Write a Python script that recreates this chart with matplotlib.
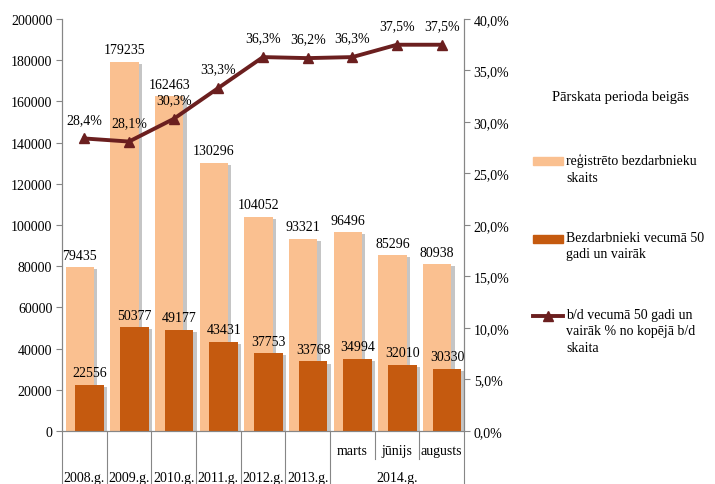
import matplotlib
matplotlib.use('Agg')
import matplotlib.pyplot as plt
import matplotlib.patheffects as pe
from matplotlib.patches import Rectangle
from matplotlib.lines import Line2D
from matplotlib.transforms import blended_transform_factory
from matplotlib.ticker import FuncFormatter

plt.rcParams['font.family'] = ['Liberation Serif', 'DejaVu Serif']
plt.rcParams['font.size'] = 10

# data
periods = ['2008.g.', '2009.g.', '2010.g.', '2011.g.', '2012.g.', '2013.g.', 'marts', 'jūnijs', 'augusts']
registered = [79435, 179235, 162463, 130296, 104052, 93321, 96496, 85296, 80938]
over50 = [22556, 50377, 49177, 43431, 37753, 33768, 34994, 32010, 30330]
share = [28.4, 28.1, 30.3, 33.3, 36.3, 36.2, 36.3, 37.5, 37.5]
month_labels = ['marts', 'jūnijs', 'augusts']
year_labels = ['2008.g.', '2009.g.', '2010.g.', '2011.g.', '2012.g.', '2013.g.', '2014.g.']
legend_labels = ['reģistrēto bezdarbnieku\nskaits',
                 'Bezdarbnieki vecumā 50\ngadi un vairāk',
                 'b/d vecumā 50 gadi un\nvairāk % no kopējā b/d\nskaita']

c_light = '#FAC090'
c_dark = '#C55A0F'
c_line = '#6B1F1F'

fig = plt.figure(figsize=(7.15, 4.85), dpi=100)
ax = fig.add_axes([0.0867, 0.1093, 0.5622, 0.8495])
ax2 = ax.twinx()

x = list(range(len(periods)))
shadow = [pe.SimplePatchShadow(offset=(2.5, -1.5), shadow_rgbFace='#808080', alpha=0.45), pe.Normal()]

b1 = ax.bar([i - 0.1 for i in x], registered, 0.63, color=c_light, zorder=2)
b2 = ax.bar([i + 0.12 for i in x], over50, 0.64, color=c_dark, zorder=3)
for p in list(b1) + list(b2):
    p.set_path_effects(shadow)

for i, v in enumerate(registered):
    ax.annotate(str(v), (i - 0.1, v), xytext=(0, 4), textcoords='offset points',
                ha='center', va='bottom', fontsize=10, zorder=5)
for i, v in enumerate(over50):
    ax.annotate(str(v), (i + 0.12, v), xytext=(0, 4), textcoords='offset points',
                ha='center', va='bottom', fontsize=10, zorder=5)

ax2.plot(x, share, color=c_line, lw=2.8, marker='^', markersize=7, zorder=6)
for i, v in enumerate(share):
    ax2.annotate(('%.1f%%' % v).replace('.', ','), (i, v), xytext=(0, 9),
                 textcoords='offset points', ha='center', va='bottom', fontsize=10)

ax.set_xlim(-0.5, len(periods) - 0.5)
ax.set_ylim(0, 200000)
ax.set_yticks(range(0, 200001, 20000))
ax2.set_ylim(0, 40)
ax2.set_yticks(range(0, 41, 5))
ax2.yaxis.set_major_formatter(FuncFormatter(lambda v, p: ('%.1f%%' % v).replace('.', ',')))
ax.set_xticks([])

for a in (ax, ax2):
    a.spines['top'].set_visible(False)
    for s in ('left', 'right', 'bottom'):
        a.spines[s].set_color('#868686')
    a.tick_params(axis='y', color='#868686', length=4, labelsize=10, pad=3)

# two-level category axis
tr = blended_transform_factory(ax.transData, ax.transAxes)
n = len(periods)
for i in range(n + 1):
    xs = i - 0.5
    low = -0.068 if i in (7, 8) else -0.14
    ax.plot([xs, xs], [0, low], transform=tr, color='#868686', lw=0.8, clip_on=False)
for i, m in enumerate(month_labels):
    ax.text(6 + i, -0.048, m, transform=tr, ha='center', va='center', fontsize=10)
for i, y in enumerate(year_labels[:-1]):
    ax.text(i, -0.112, y, transform=tr, ha='center', va='center', fontsize=10)
ax.text(7, -0.112, year_labels[-1], transform=tr, ha='center', va='center', fontsize=10)

# legend drawn by hand so handles sit on the first text line
W, H = 715.0, 485.0
fig.text(552 / W, 1 - 98 / H, 'Pārskata perioda beigās', fontsize=10.5, ha='left', va='center')
rows = [162, 240, 317]
for k, (yy, lab) in enumerate(zip(rows, legend_labels)):
    fy = 1 - yy / H
    if k < 2:
        fig.add_artist(Rectangle((533 / W, fy - 4 / H), 30 / W, 8 / H,
                                 color=[c_light, c_dark][k], transform=fig.transFigure))
    else:
        fig.add_artist(Line2D([533 / W, 563 / W], [fy, fy], color=c_line, lw=2.8,
                              transform=fig.transFigure))
        fig.add_artist(Line2D([548 / W], [fy], color=c_line, marker='^', markersize=7,
                              transform=fig.transFigure))
    fig.text(566 / W, fy + 8 / H, lab, ha='left', va='top', fontsize=10, linespacing=1.35)

fig.savefig('out.png', dpi=100)
